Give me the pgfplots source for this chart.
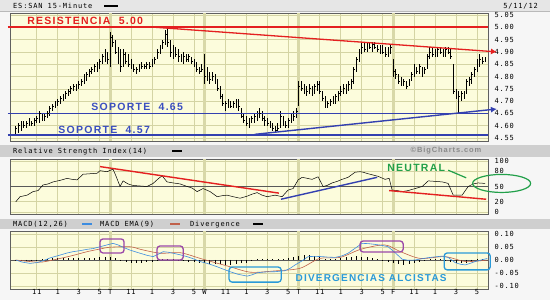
\documentclass[border=0pt]{standalone}
\usepackage{pgfplots}
\pgfplotsset{compat=1.18}
\usepackage{pgfplotstable}
\usepackage{fontspec}
\setmainfont{Liberation Sans}
\newfontfamily\mono[LetterSpace=12]{DejaVu Sans Mono}
\newfontfamily\annot[LetterSpace=12]{Liberation Sans}
\usetikzlibrary{arrows.meta}
\definecolor{plotbg}{HTML}{FCFCDC}
\definecolor{gridc}{HTML}{D4D4A4}
\definecolor{sepc}{HTML}{D8D8A8}
\definecolor{bandc}{HTML}{CFCFCF}
\definecolor{topc}{HTML}{E6E6E6}
\definecolor{pagec}{HTML}{F6F6F6}
\definecolor{resred}{HTML}{E42020}
\definecolor{supblue}{HTML}{3340B0}
\definecolor{suptext}{HTML}{3A4EC0}
\definecolor{neugreen}{HTML}{22A04A}
\definecolor{purp}{HTML}{9A48A8}
\definecolor{cyanb}{HTML}{2A9AD8}
\definecolor{macdblue}{HTML}{3C8CE0}
\definecolor{emared}{HTML}{C0604A}
\definecolor{copyc}{HTML}{8A8A8A}

\pgfdeclareplotmark{ctick}{\pgfpathmoveto{\pgfpointorigin}\pgfpathlineto{\pgfpoint{1.4pt}{0pt}}\pgfusepathqstroke}

\pgfplotstableread{
l h c
4.56 4.60 4.59
4.57 4.61 4.60
4.58 4.62 4.61
4.59 4.62 4.60
4.59 4.62 4.61
4.60 4.63 4.62
4.60 4.62 4.61
4.60 4.63 4.62
4.61 4.64 4.63
4.61 4.66 4.65
4.62 4.65 4.63
4.62 4.65 4.64
4.63 4.66 4.65
4.64 4.68 4.67
4.66 4.69 4.68
4.67 4.70 4.69
4.68 4.71 4.70
4.69 4.72 4.71
4.70 4.73 4.72
4.71 4.74 4.73
4.72 4.75 4.74
4.73 4.76 4.75
4.74 4.77 4.76
4.74 4.77 4.76
4.75 4.78 4.77
4.76 4.79 4.78
4.77 4.81 4.80
4.78 4.82 4.81
4.80 4.83 4.82
4.81 4.84 4.83
4.82 4.85 4.84
4.82 4.86 4.84
4.83 4.87 4.86
4.85 4.89 4.88
4.86 4.91 4.89
4.85 4.90 4.87
4.84 4.98 4.96
4.92 4.97 4.94
4.89 4.95 4.90
4.85 4.92 4.88
4.82 4.91 4.84
4.84 4.91 4.89
4.85 4.90 4.86
4.84 4.89 4.85
4.83 4.87 4.84
4.82 4.85 4.83
4.81 4.84 4.83
4.82 4.85 4.84
4.83 4.86 4.84
4.83 4.85 4.84
4.83 4.86 4.85
4.83 4.86 4.84
4.84 4.87 4.86
4.85 4.88 4.87
4.87 4.91 4.90
4.89 4.93 4.92
4.91 4.95 4.94
4.93 4.99 4.97
4.92 5.00 4.94
4.88 4.95 4.90
4.87 4.93 4.91
4.88 4.92 4.89
4.86 4.91 4.88
4.86 4.89 4.87
4.85 4.90 4.88
4.86 4.89 4.87
4.86 4.89 4.88
4.85 4.88 4.86
4.84 4.87 4.85
4.82 4.86 4.83
4.81 4.84 4.82
4.82 4.85 4.83
4.77 4.89 4.80
4.78 4.84 4.80
4.77 4.82 4.79
4.78 4.82 4.80
4.77 4.81 4.78
4.74 4.79 4.75
4.71 4.76 4.72
4.68 4.73 4.69
4.66 4.70 4.69
4.67 4.71 4.70
4.67 4.70 4.68
4.67 4.70 4.69
4.67 4.71 4.70
4.66 4.71 4.68
4.63 4.67 4.64
4.61 4.65 4.62
4.60 4.64 4.61
4.59 4.63 4.62
4.61 4.64 4.63
4.61 4.65 4.64
4.62 4.66 4.63
4.63 4.67 4.65
4.62 4.66 4.63
4.60 4.64 4.62
4.60 4.63 4.61
4.59 4.62 4.60
4.58 4.61 4.59
4.57 4.60 4.58
4.58 4.61 4.59
4.59 4.66 4.64
4.60 4.64 4.61
4.59 4.62 4.60
4.59 4.63 4.62
4.61 4.65 4.63
4.62 4.66 4.64
4.63 4.67 4.66
4.68 4.78 4.76
4.74 4.78 4.75
4.73 4.77 4.75
4.72 4.76 4.74
4.73 4.77 4.75
4.72 4.76 4.73
4.73 4.77 4.76
4.74 4.78 4.77
4.73 4.78 4.74
4.70 4.74 4.71
4.67 4.72 4.68
4.67 4.70 4.69
4.68 4.71 4.70
4.69 4.72 4.71
4.69 4.73 4.72
4.70 4.74 4.73
4.72 4.76 4.74
4.73 4.77 4.75
4.73 4.77 4.76
4.74 4.78 4.77
4.75 4.79 4.78
4.77 4.84 4.83
4.82 4.88 4.87
4.86 4.91 4.90
4.89 4.94 4.92
4.90 4.94 4.91
4.90 4.94 4.93
4.91 4.94 4.92
4.90 4.94 4.93
4.91 4.94 4.92
4.90 4.93 4.91
4.89 4.93 4.92
4.89 4.93 4.90
4.88 4.92 4.89
4.88 4.92 4.91
4.89 4.93 4.92
4.80 4.87 4.82
4.79 4.83 4.81
4.77 4.81 4.78
4.76 4.80 4.77
4.76 4.79 4.78
4.75 4.78 4.76
4.76 4.79 4.77
4.78 4.82 4.81
4.80 4.85 4.83
4.81 4.84 4.82
4.81 4.85 4.84
4.80 4.84 4.82
4.81 4.84 4.83
4.83 4.89 4.88
4.87 4.92 4.90
4.88 4.92 4.89
4.88 4.91 4.90
4.88 4.92 4.91
4.89 4.92 4.90
4.88 4.91 4.89
4.88 4.92 4.91
4.89 4.92 4.90
4.87 4.91 4.88
4.73 4.85 4.74
4.71 4.75 4.72
4.65 4.74 4.72
4.70 4.74 4.73
4.71 4.74 4.72
4.73 4.79 4.78
4.76 4.80 4.79
4.77 4.82 4.81
4.80 4.84 4.83
4.82 4.87 4.86
4.84 4.89 4.87
4.85 4.88 4.86
4.86 4.88 4.87
}\ohlc

\pgfplotsset{
 panel/.style={scale only axis, width=478pt, xmin=-0.55, xmax=45.05,
  axis background/.style={fill=plotbg},
  xtick={2,4,6,8,9,11,13,15,17,18,20,22,24,26,27,29,31,33,35,36,38,40,42,44},
  grid=major, major grid style={gridc, line width=0.6pt},
  extra x ticks={9,18,27,36}, extra x tick labels={},
  extra x tick style={grid=major, major grid style={sepc, line width=3pt}},
  xticklabels={}, tick style={draw=none}, yticklabel pos=right,
  ticklabel style={font=\mono\fontsize{7}{8}\selectfont, text=black},
  yticklabel style={xshift=3pt},
  axis line style={draw=gray!75!black, line width=0.5pt},
  clip=false,
 }
}

\begin{document}
\begin{tikzpicture}
\useasboundingbox (0pt,0pt) rectangle (550pt,300pt);
\fill[pagec] (0pt,0pt) rectangle (550pt,300pt);
\fill[topc] (0pt,289pt) rectangle (550pt,300pt);
\draw[gray!55] (0pt,288.5pt) -- (550pt,288.5pt);
\node[anchor=base west, font=\mono\fontsize{7}{8}\selectfont, inner sep=0pt] at (13pt,291.5pt) {ES:SAN 15-Minute};
\fill[black] (104pt,293pt) rectangle (118pt,295pt);
\node[anchor=base east, font=\mono\fontsize{7}{8}\selectfont, inner sep=0pt] at (538pt,291.5pt) {5/11/12};
% RSI band
\fill[bandc] (0pt,143pt) rectangle (550pt,155pt);
\node[anchor=base west, font=\mono\fontsize{7}{8}\selectfont, inner sep=0pt] at (13pt,146.5pt) {Relative Strength Index(14)};
\fill[black] (172pt,148pt) rectangle (182pt,150pt);
\node[font=\annot\bfseries\fontsize{7.5}{8}\selectfont, text=copyc, inner sep=0pt] at (446pt,149pt) {\textcopyright BigCharts.com};
% MACD band
\fill[bandc] (0pt,71pt) rectangle (550pt,81pt);
\node[anchor=base west, font=\mono\fontsize{7}{8}\selectfont, inner sep=0pt] at (13pt,73.5pt) {MACD(12,26)};
\fill[macdblue] (82pt,75pt) rectangle (92pt,77pt);
\node[anchor=base west, font=\mono\fontsize{7}{8}\selectfont, inner sep=0pt] at (100pt,73.5pt) {MACD EMA(9)};
\fill[emared] (170pt,75pt) rectangle (180pt,77pt);
\node[anchor=base west, font=\mono\fontsize{7}{8}\selectfont, inner sep=0pt] at (190pt,73.5pt) {Divergence};
\fill[black] (253pt,75pt) rectangle (263pt,77pt);

% ===== price panel =====
\begin{axis}[panel, at={(10pt,287pt)}, anchor=north west, height=128pt,
  ymin=4.538, ymax=5.058,
  ytick={4.55,4.60,4.65,4.70,4.75,4.80,4.85,4.90,4.95,5.00,5.05},
  yticklabels={4.55,4.60,4.65,4.70,4.75,4.80,4.85,4.90,4.95,5.00,5.05}]
\addplot[only marks, mark=ctick, black, line width=0.7pt,
  error bars/.cd, y dir=both, y explicit, error mark=none,
  error bar style={black, line width=0.7pt}]
  table[x expr=\coordindex/4, y=c, y error plus expr=\thisrow{h}-\thisrow{c}, y error minus expr=\thisrow{c}-\thisrow{l}] {\ohlc};
\addplot[resred, line width=1.6pt] coordinates {(-0.75,5.0) (45.05,5.0)};
\addplot[resred, line width=1.3pt, -{Latex[length=6pt,width=6pt]}] coordinates {(13.3,5.0) (45.9,4.90)};
\addplot[supblue, line width=1.6pt] coordinates {(-0.75,4.65) (45.05,4.65)};
\addplot[supblue, line width=1.6pt] coordinates {(-0.75,4.562) (45.05,4.562)};
\addplot[supblue, line width=1.4pt, -{Latex[length=6pt,width=6pt]}] coordinates {(22.8,4.565) (45.9,4.668)};
\node[font=\annot\bfseries\fontsize{10.5}{11}\selectfont, text=resred] at (axis cs:6.62,5.026) {RESISTENCIA\ \ 5.00};
\node[font=\annot\bfseries\fontsize{10.5}{11}\selectfont, text=suptext] at (axis cs:11.58,4.676) {SOPORTE\ \ 4.65};
\node[font=\annot\bfseries\fontsize{10.5}{11}\selectfont, text=suptext] at (axis cs:8.43,4.583) {SOPORTE\ \ 4.57};
\end{axis}

% ===== RSI panel =====
\begin{axis}[panel, at={(10pt,141pt)}, anchor=north west, height=55pt,
  ymin=-3.92, ymax=103.9,
  ytick={0,20,50,80,100}, yticklabels={0,20,50,80,100}]
\draw[gray!70!black, line width=0.6pt] (axis cs:-0.55,50) -- (axis cs:45.05,50);
\addplot[black, line width=0.5pt] coordinates {
(0,20) (0.41,30) (1.08,33) (1.65,40) (2.13,42) (2.6,53) (3.08,55) (3.56,59) (4.23,62) (4.9,66)
(5.37,64) (5.85,63) (6.42,74) (7.09,75) (7.76,76) (8.04,81) (8.71,79) (9.28,84) (9.57,70) (9.95,50)
(10.24,61) (10.71,55) (11.19,52) (11.86,51) (12.52,50) (13.1,56) (13.58,65) (13.96,71) (14.43,59) (15.01,57)
(15.68,55) (16.34,50) (16.82,47) (17.3,40) (17.87,46) (18.54,40) (19.21,30) (19.69,32) (20.16,33) (20.74,30)
(21.4,27) (22.07,31) (22.55,35) (23.03,38) (23.5,33) (23.98,30) (24.74,33) (25.41,30) (25.98,43) (26.46,46)
(26.94,63) (27.32,68) (27.8,66) (28.27,64) (28.84,69) (29.32,50) (29.7,52) (30.18,57) (30.66,60) (31.13,64)
(31.7,68) (32.37,78) (32.85,79) (33.14,78) (33.61,75) (33.99,73) (34.56,70) (35.23,64) (35.62,66) (35.9,43)
(36.38,42) (36.86,40) (37.43,42) (38.1,46) (38.77,50) (39.35,61) (40.02,60) (40.69,59) (41.25,56) (41.73,33)
(42.2,33) (42.58,33) (43.16,50) (43.64,55) (44.11,57) (44.78,56)};
\addplot[resred, line width=1.4pt] coordinates {(8.04,89) (25.1,37)};
\addplot[supblue, line width=1.4pt] coordinates {(25.3,25) (34.48,68)};
\addplot[resred, line width=1.4pt] coordinates {(35.62,42) (44.88,25)};
\draw[neugreen, line width=1.2pt] (axis cs:46.35,56) ellipse [x radius=29pt, y radius=9pt];
\draw[neugreen, line width=1.2pt] (axis cs:41.25,82) -- (axis cs:42.97,67);
\node[font=\annot\bfseries\fontsize{10.5}{11}\selectfont, text=neugreen] at (axis cs:38.2,86) {NEUTRAL};
\end{axis}

% ===== MACD panel =====
\begin{axis}[panel, at={(10pt,69pt)}, anchor=north west, height=58pt,
  ymin=-0.1115, ymax=0.1115,
  ytick={-0.1,-0.05,0,0.05,0.1}, yticklabels={-0.10,-0.05,0.00,0.05,0.10},
  xticklabels={11,1,3,5,T,11,1,3,5,W,11,1,3,5,T,11,1,3,5,F,11,1,3,5},
  xticklabel style={yshift=3pt}]
\draw[gray!70!black, line width=0.6pt] (axis cs:-0.55,0) -- (axis cs:45.05,0);
\addplot[ycomb, black, line width=0.6pt] coordinates {
(0,-0.004) (0.5,-0.005) (1,-0.005) (1.5,-0.004) (2,-0.002) (2.5,0.003) (3,0.005) (3.5,0.006) (4,0.007) (4.5,0.008)
(5,0.009) (5.5,0.009) (6,0.008) (6.5,0.008) (7,0.008) (7.5,0.009) (8,0.010) (8.5,0.011) (9,0.012) (9.5,0.008)
(10,-0.002) (10.5,-0.007) (11,-0.010) (11.5,-0.011) (12,-0.010) (12.5,-0.009) (13,-0.006) (13.5,-0.002) (14,0.004) (14.5,0.004)
(15,0.003) (15.5,-0.002) (16,-0.004) (16.5,-0.006) (17,-0.008) (17.5,-0.011) (18,-0.013) (18.5,-0.015) (19,-0.016) (19.5,-0.017)
(20,-0.018) (20.5,-0.018) (21,-0.016) (21.5,-0.013) (22,-0.010) (22.5,-0.004) (23,0.002) (23.5,0.003) (24,0.002) (24.5,0.002)
(25,0.003) (25.5,0.004) (26,0.006) (26.5,0.010) (27,0.014) (27.5,0.018) (28,0.019) (28.5,0.016) (29,0.010) (29.5,0.005)
(30,0.003) (30.5,0.004) (31,0.006) (31.5,0.010) (32,0.013) (32.5,0.014) (33,0.013) (33.5,0.010) (34,0.006) (34.5,0.002)
(35,-0.002) (35.5,-0.006) (36,-0.012) (36.5,-0.016) (37,-0.018) (37.5,-0.016) (38,-0.012) (38.5,-0.008) (39,-0.002) (39.5,0.002)
(40,0.003) (40.5,0.003) (41,0.001) (41.5,-0.006) (42,-0.012) (42.5,-0.013) (43,-0.010) (43.5,-0.005) (44,0.002) (44.5,0.005)};
\addplot[emared, line width=0.6pt, smooth] coordinates {
(0,0.000) (1.36,-0.006) (2.5,-0.008) (4.23,0.006) (5.5,0.018) (6.8,0.032) (8.0,0.042) (9.0,0.049) (10.9,0.051) (12.0,0.040)
(13.8,0.026) (15.7,0.028) (17.6,0.006) (19.0,-0.010) (20.45,-0.026) (22.4,-0.047) (24.7,-0.042) (27.1,-0.032) (29.0,0.006) (30.95,0.010)
(32.9,0.041) (35.2,0.058) (36.7,0.032) (38.6,0.006) (40.95,0.013) (42.9,-0.006) (45.0,0.000)};
\addplot[macdblue, line width=0.6pt] coordinates {
(0,0.000) (0.6,-0.008) (1.36,-0.013) (2.03,-0.010) (2.6,-0.003) (3.27,0.008) (4.23,0.019) (4.9,0.027) (5.47,0.032) (6.14,0.036)
(6.8,0.041) (7.38,0.044) (8.04,0.051) (8.71,0.058) (9.28,0.064) (9.76,0.058) (10.24,0.049) (10.9,0.038) (11.86,0.026) (12.52,0.018)
(13.1,0.013) (13.58,0.022) (14.06,0.032) (14.53,0.030) (15.01,0.026) (15.68,0.020) (16.34,0.013) (16.92,0.005) (17.59,-0.006) (18.35,-0.014)
(19.21,-0.026) (19.78,-0.035) (20.45,-0.045) (21.21,-0.055) (22.07,-0.062) (22.55,-0.057) (23.03,-0.049) (23.79,-0.046) (24.74,-0.045) (25.7,-0.041)
(26.17,-0.032) (26.65,-0.019) (27.32,-0.003) (27.89,0.013) (28.56,0.014) (29.23,0.013) (29.8,0.011) (30.47,0.010) (31.13,0.016) (31.7,0.026)
(32.37,0.045) (33.04,0.064) (33.61,0.063) (34.28,0.060) (34.94,0.056) (35.52,0.051) (36.19,0.028) (36.86,0.003) (37.43,-0.001) (38.1,0.000)
(38.77,0.005) (39.35,0.009) (40.02,0.012) (40.69,0.015) (41.25,0.010) (41.92,-0.010) (42.39,-0.016) (42.87,-0.019) (43.35,-0.013) (43.83,-0.006)
(44.4,0.000) (44.98,0.006)};
\draw[purp, line width=1.3pt, rounded corners=3pt] (axis cs:8.04,0.081) rectangle (axis cs:10.33,0.027);
\draw[purp, line width=1.3pt, rounded corners=3pt] (axis cs:13.48,0.054) rectangle (axis cs:15.97,0.0);
\draw[purp, line width=1.3pt, rounded corners=3pt] (axis cs:32.85,0.073) rectangle (axis cs:36.96,0.031);
\draw[cyanb, line width=1.3pt, rounded corners=3pt] (axis cs:20.35,-0.027) rectangle (axis cs:25.32,-0.085);
\draw[cyanb, line width=1.3pt, rounded corners=3pt] (axis cs:40.87,0.027) rectangle (axis cs:45.26,-0.038);
\node[font=\annot\bfseries\fontsize{10}{11}\selectfont, text=cyanb] at (axis cs:33.9,-0.069) {DIVERGENCIAS ALCISTAS};
\end{axis}
\end{tikzpicture}
\end{document}
